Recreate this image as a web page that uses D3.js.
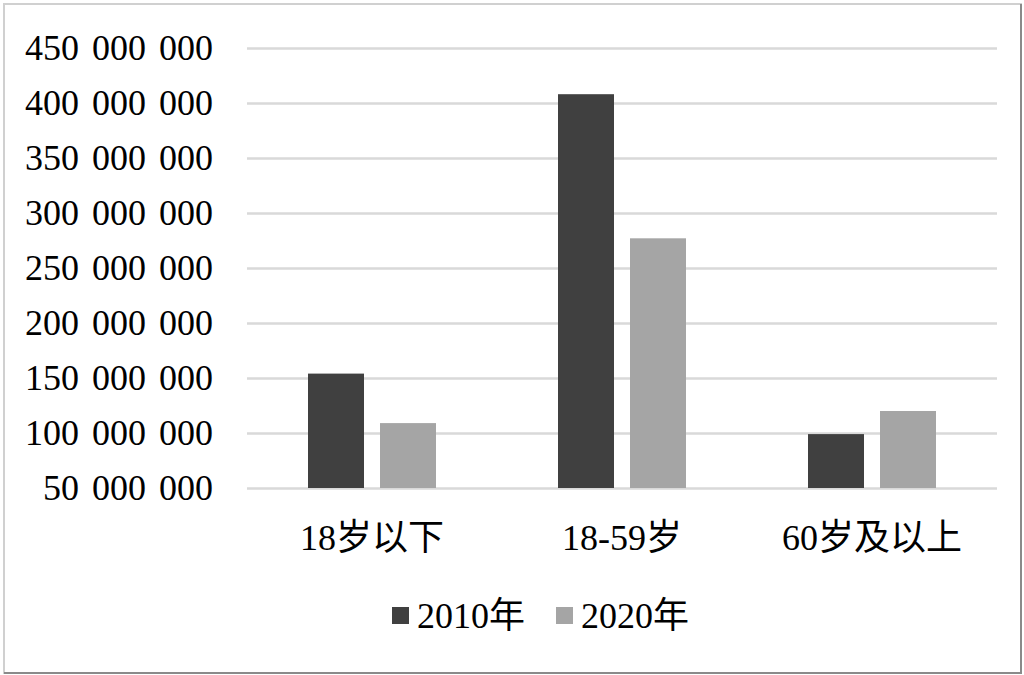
<!DOCTYPE html>
<html><head><meta charset="utf-8">
<script src="https://cdn.jsdelivr.net/npm/d3@7"></script>
<style>body{margin:0;background:#fff}svg{display:block}</style>
</head><body><svg id="c" width="1024" height="675"></svg>
<script>
const categories = ["18岁以下", "18-59岁", "60岁及以上"];
const seriesNames = ["2010年", "2020年"];
const values2010 = [154000000, 408000000, 99000000];
const values2020 = [109000000, 277000000, 120000000];
const yTicks = [50000000,100000000,150000000,200000000,250000000,300000000,350000000,400000000,450000000];
const colors = ["#404040", "#a5a5a5"];

const svg = d3.select("#c");
const font = "'Liberation Serif','Times New Roman','Noto Sans CJK SC',serif";
// frame
svg.append("rect").attr("x",4).attr("y",4).attr("width",1017).attr("height",669)
  .attr("fill","#fff").attr("stroke","#d0d0d0").attr("stroke-width",2);
svg.append("path").attr("d","M1021,4V673H4").attr("fill","none").attr("stroke","#8a8a8a").attr("stroke-width",2);

const x0 = d3.scaleBand().domain(categories).range([247,997]);
const x1 = d3.scaleBand().domain(seriesNames).range([0,128]).paddingInner(16/72);
const y = d3.scaleLinear().domain([50000000,450000000]).range([488,48]);

const fmt = v => d3.format(",")(v).replace(/,/g, " ");
const yAxis = d3.axisLeft(y).tickValues(yTicks).tickFormat(fmt).tickSize(-750).tickPadding(34);
const ga = svg.append("g").attr("transform","translate(247,0)").call(yAxis);
ga.select(".domain").remove();
ga.selectAll(".tick line").attr("stroke","#d9d9d9").attr("stroke-width",2.5);
ga.selectAll(".tick text").attr("fill","#000").style("font-family",font).style("font-size","36px").style("word-spacing","4px");

const data = categories.map((c,i)=>({c, v:[values2010[i], values2020[i]]}));
const g = svg.append("g");
data.forEach(d=>{
  const cx = x0(d.c) + x0.bandwidth()/2 - 64;
  seriesNames.forEach((s,j)=>{
    g.append("rect").attr("x", cx + x1(s)).attr("width", x1.bandwidth())
      .attr("y", y(d.v[j])).attr("height", y(50000000)-y(d.v[j])).attr("fill", colors[j]);
  });
});

const xAxis = d3.axisBottom(x0).tickSize(0).tickPadding(0);
const gx = svg.append("g").attr("transform","translate(0,488)").call(xAxis);
gx.select(".domain").remove();
gx.selectAll(".tick text").attr("fill","#000").attr("dy",0).attr("y",62)
  .style("font-family",font).style("font-size","36px");

// legend
const legX = [392, 556];
seriesNames.forEach((s,j)=>{
  svg.append("rect").attr("x",legX[j]).attr("y",607).attr("width",17).attr("height",17).attr("fill",colors[j]);
  svg.append("text").attr("x",legX[j]+25).attr("y",628).text(s)
    .style("font-family",font).style("font-size","36px").attr("fill","#000");
});
</script></body></html>
